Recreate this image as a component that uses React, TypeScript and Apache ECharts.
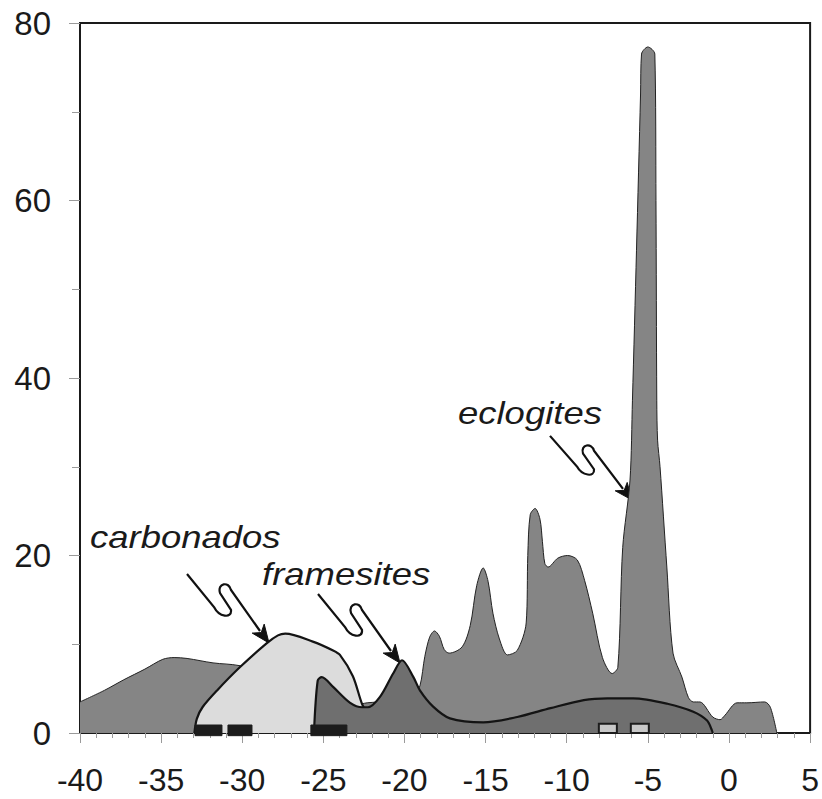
import React, { useEffect, useRef } from "react";
import * as echarts from "echarts";

// δ13C distribution curves: [x, frequency]
const eclogites: [number, number][] = [
  [-40, 3.5], [-38.5, 4.8], [-37.3, 6.0], [-36, 7.2], [-34.9, 8.3], [-34.2, 8.5], [-33.4, 8.4],
  [-31.8, 7.9], [-30.2, 7.6], [-28, 6.5], [-26, 5], [-24, 3.6], [-23, 3.2], [-22.3, 3.4],
  [-21, 3.6], [-20, 4.0], [-19.4, 4.5], [-19.05, 5.3], [-18.75, 8.6], [-18.45, 10.8],
  [-18.15, 11.5], [-17.85, 10.9], [-17.55, 9.4], [-17.25, 9.0], [-16.45, 9.7], [-15.95, 12.1],
  [-15.55, 16.6], [-15.15, 18.6], [-14.85, 17.1], [-14.55, 13.5], [-14.15, 10.6], [-13.65, 8.8],
  [-13.05, 9.3], [-12.5, 12.4], [-12.4, 20], [-12.25, 24.6], [-11.95, 25.3], [-11.65, 24.1],
  [-11.5, 21.6], [-11.35, 19.1], [-11.15, 18.7], [-10.55, 19.7], [-9.95, 20], [-9.35, 19.5],
  [-8.9, 17.2], [-8.4, 13.5], [-7.8, 8.5], [-7.2, 6.7], [-6.85, 7.4], [-6.55, 20.9], [-6.1, 28.5],
  [-5.95, 37.5], [-5.7, 54.4], [-5.45, 72], [-5.39, 76.5], [-5.0, 77.3], [-4.57, 76.5],
  [-4.5, 60], [-4.45, 37.5], [-4.4, 33], [-4.25, 30], [-3.83, 18.7], [-3.45, 9], [-2.9, 6.3],
  [-2.5, 4], [-2.2, 3.5], [-1.8, 3.5], [-1.0, 1.8], [-0.55, 1.5], [-0.25, 2.0], [0.5, 3.4],
  [1.1, 3.4], [2.2, 3.5], [2.55, 2.9], [2.95, 0],
];

const carbonados: [number, number][] = [
  [-32.95, 0], [-32.8, 1.6], [-32.45, 2.9], [-31.55, 4.8], [-30.15, 7.4], [-28.5, 10.1],
  [-27.8, 11.0], [-27.35, 11.2], [-25.65, 10.3], [-24.4, 9.3], [-23.98, 8.8], [-23.18, 6.4],
  [-22.6, 3.2], [-22.2, 2.0], [-21.6, 0.8], [-21, 0],
];

const framesites: [number, number][] = [
  [-25.58, 0], [-25.35, 5.9], [-25.1, 6.3], [-24.4, 5.2], [-23.35, 3.4], [-22.6, 2.9],
  [-22.25, 2.9], [-21.5, 4.1], [-20.7, 6.7], [-20.15, 8.2], [-19.45, 6.3], [-19.05, 4.8],
  [-18.25, 3.0], [-17.2, 1.65], [-15.15, 1.2], [-13.05, 1.8], [-11.0, 2.8], [-8.95, 3.7],
  [-7.5, 3.9], [-5.9, 3.9], [-3.8, 3.3], [-2.2, 2.4], [-1.35, 1.4], [-1.05, 0.3], [-1.0, 0],
];

// sample ranges: [xStart, xEnd, yBottom, yTop]
const carbonadoFramesiteBars: [number, number, number, number][] = [
  [-32.91, -31.25, -0.3, 0.9],
  [-30.88, -29.4, -0.3, 0.9],
  [-25.77, -23.55, -0.3, 0.9],
];
const eclogiteBars: [number, number, number, number][] = [
  [-8.02, -6.91, 0, 1.05],
  [-6.05, -4.94, 0, 1.05],
];

const annotationTexts = ["eclogites", "carbonados", "framesites"];

const SQUIGGLE =
  "M-82,-69 L-55,-36 C-50,-26 -37,-24 -38,-33 L-49,-50 C-52,-60 -40,-62 -38,-53 L-9,-12";
const HEAD = "M0,0 L-4.8,-18.9 L-7.8,-10.4 L-16.8,-9.9 Z";

const FONT = "'Liberation Sans', Arial, sans-serif";

export default function App() {
  const ref = useRef<HTMLDivElement>(null);

  useEffect(() => {
    document.body.style.margin = "0";
    const el = ref.current!;
    echarts.graphic.registerShape("squiggle", echarts.graphic.extendPath(SQUIGGLE, {}));
    echarts.graphic.registerShape("arrowHead", echarts.graphic.extendPath(HEAD, {}));
    const chart = echarts.init(el, null, { renderer: "svg" });

    const rectRender = (fill: string, stroke: string, lw: number) => (params: any, api: any) => {
      const p0 = api.coord([api.value(0), api.value(3)]);
      const p1 = api.coord([api.value(1), api.value(2)]);
      return {
        type: "rect",
        shape: { x: p0[0], y: p0[1], width: p1[0] - p0[0], height: p1[1] - p0[1] },
        style: { fill, stroke, lineWidth: lw },
      };
    };

    const arrow = (x: number, y: number, sy = 1) => ({
      type: "group",
      x,
      y,
      scaleY: sy,
      children: [
        { type: "squiggle", style: { fill: "none", stroke: "#111", lineWidth: 2.2 } },
        { type: "arrowHead", style: { fill: "#111", stroke: "#111", lineWidth: 1 } },
      ],
    });

    const label = (text: string, x: number, y: number) => ({
      type: "text",
      x,
      y,
      scaleX: 1.14,
      style: {
        text,
        fontSize: 32,
        fontStyle: "italic",
        fontFamily: FONT,
        fill: "#1a1a1a",
        align: "left",
        verticalAlign: "middle",
      },
    });

    chart.setOption({
      animation: false,
      grid: {
        left: 80,
        right: 11,
        top: 23,
        bottom: 66,
        show: true,
        borderColor: "#1a1a1a",
        borderWidth: 2,
        backgroundColor: "transparent",
      },
      xAxis: {
        type: "value",
        min: -40,
        max: 5,
        interval: 5,
        axisLine: { show: true, onZero: false, lineStyle: { color: "#1a1a1a", width: 2 } },
        axisTick: { show: true, length: 10, lineStyle: { color: "#9a9a9a", width: 1 } },
        minorTick: { show: true, splitNumber: 5, length: 5, lineStyle: { color: "#9a9a9a", width: 1 } },
        splitLine: { show: false },
        minorSplitLine: { show: false },
        axisLabel: { fontSize: 32, color: "#1a1a1a", fontFamily: FONT, margin: 31 },
      },
      yAxis: {
        type: "value",
        min: 0,
        max: 80,
        interval: 20,
        axisLine: { show: true, onZero: false, lineStyle: { color: "#1a1a1a", width: 2 } },
        axisTick: { show: true, length: 11, lineStyle: { color: "#9a9a9a", width: 1 } },
        minorTick: { show: true, splitNumber: 2, length: 8, lineStyle: { color: "#9a9a9a", width: 1 } },
        splitLine: { show: false },
        minorSplitLine: { show: false },
        axisLabel: { fontSize: 33, color: "#1a1a1a", fontFamily: FONT, margin: 29 },
      },
      series: [
        {
          name: "eclogites",
          type: "line",
          data: eclogites,
          symbol: "none",
          smooth: 0.3,
          lineStyle: { color: "#222", width: 1 },
          areaStyle: { color: "#858585", opacity: 1 },
          z: 2,
        },
        {
          name: "carbonados",
          type: "line",
          data: carbonados,
          symbol: "none",
          smooth: 0.3,
          lineStyle: { color: "#141414", width: 2.2 },
          areaStyle: { color: "#dcdcdc", opacity: 1 },
          z: 3,
        },
        {
          name: "framesites",
          type: "line",
          data: framesites,
          symbol: "none",
          smooth: 0.3,
          lineStyle: { color: "#141414", width: 2.2 },
          areaStyle: { color: "#6f6f6f", opacity: 1 },
          z: 4,
        },
        {
          type: "custom",
          data: carbonadoFramesiteBars,
          renderItem: rectRender("#1c1c1c", "#1c1c1c", 1),
          clip: false,
          z: 5,
        },
        {
          type: "custom",
          data: eclogiteBars,
          renderItem: rectRender("#c8c8c8", "#1c1c1c", 2),
          clip: false,
          z: 5,
        },
      ],
      graphic: [
        label(annotationTexts[0], 458, 413),
        label(annotationTexts[1], 90, 537),
        label(annotationTexts[2], 262, 574),
        arrow(632, 500, 0.93),
        arrow(269, 643),
        arrow(400, 663),
      ],
    });

    return () => chart.dispose();
  }, []);

  return <div ref={ref} style={{ width: 822, height: 799 }} />;
}
